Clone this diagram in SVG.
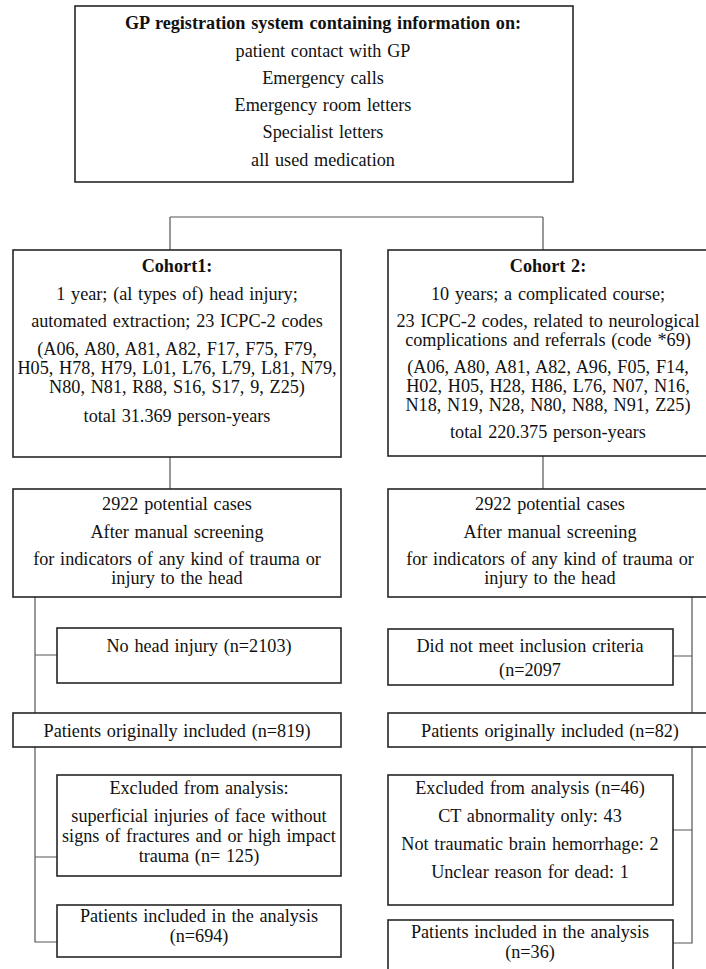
<svg xmlns="http://www.w3.org/2000/svg" width="706" height="969" viewBox="0 0 706 969">
<style>
  .box { fill: #ffffff; stroke: #262626; stroke-width: 1.6; }
  .conn { fill: none; stroke: #555555; stroke-width: 1.2; }
  text { font-size: 18.2px; word-spacing: 1.2px; fill: #111111; text-anchor: middle; }
  .b { font-weight: bold; }
</style>
<rect width="706" height="969" fill="#ffffff"/>

<g id="connectors">
  <path class="conn" d="M170,217 H543 M170,217 V250 M543,217 V250"/>
  <path class="conn" d="M170,457 V489 M543,456 V489"/>
  <path class="conn" d="M35,597 V713 M35,655 H57"/>
  <path class="conn" d="M35,747 V942 H57 M35,857 H57"/>
  <path class="conn" d="M692,597 V713 M692,656 H673"/>
  <path class="conn" d="M692,747 V943 H673 M692,830 H673"/>
</g>

<g font-family="Liberation Serif, Tinos, DejaVu Serif, serif">
<g id="source">
  <rect class="box" x="75" y="6" width="498" height="176"/>
  <text x="323" y="29" class="b">GP registration system containing information on:</text>
  <text x="323" y="57">patient contact with GP</text>
  <text x="323" y="84">Emergency calls</text>
  <text x="323" y="111">Emergency room letters</text>
  <text x="323" y="138">Specialist letters</text>
  <text x="323" y="166">all used medication</text>
</g>

<g id="cohort1">
  <rect class="box" x="13" y="250" width="328" height="207"/>
  <text x="177" y="272" class="b">Cohort1:</text>
  <text x="177" y="300">1 year; (al types of) head injury;</text>
  <text x="177" y="327">automated extraction; 23 ICPC-2 codes</text>
  <text x="177" y="355">(A06, A80, A81, A82, F17, F75, F79,</text>
  <text x="177" y="374">H05, H78, H79, L01, L76, L79, L81, N79,</text>
  <text x="177" y="393">N80, N81, R88, S16, S17, 9, Z25)</text>
  <text x="177" y="422">total 31.369 person-years</text>
</g>

<g id="cohort2">
  <rect class="box" x="388" y="250" width="322" height="206"/>
  <text x="548" y="272" class="b">Cohort 2:</text>
  <text x="548" y="300">10 years; a complicated course;</text>
  <text x="548" y="327">23 ICPC-2 codes, related to neurological</text>
  <text x="548" y="346">complications and referrals (code *69)</text>
  <text x="548" y="373">(A06, A80, A81, A82, A96, F05, F14,</text>
  <text x="548" y="392">H02, H05, H28, H86, L76, N07, N16,</text>
  <text x="548" y="411">N18, N19, N28, N80, N88, N91, Z25)</text>
  <text x="548" y="438">total 220.375 person-years</text>
</g>

<g id="screen1">
  <rect class="box" x="13" y="489" width="328" height="108"/>
  <text x="177" y="510">2922 potential cases</text>
  <text x="177" y="538">After manual screening</text>
  <text x="177" y="565">for indicators of any kind of trauma or</text>
  <text x="177" y="584">injury to the head</text>
</g>

<g id="screen2">
  <rect class="box" x="388" y="489" width="322" height="108"/>
  <text x="550" y="510">2922 potential cases</text>
  <text x="550" y="538">After manual screening</text>
  <text x="550" y="565">for indicators of any kind of trauma or</text>
  <text x="550" y="584">injury to the head</text>
</g>

<g id="nohead">
  <rect class="box" x="57" y="628" width="284" height="55"/>
  <text x="199" y="652">No head injury (n=2103)</text>
</g>

<g id="notmeet">
  <rect class="box" x="388" y="629" width="285" height="56"/>
  <text x="530" y="652">Did not meet inclusion criteria</text>
  <text x="530" y="676">(n=2097</text>
</g>

<g id="orig1">
  <rect class="box" x="13" y="713" width="328" height="34"/>
  <text x="177" y="737">Patients originally included (n=819)</text>
</g>

<g id="orig2">
  <rect class="box" x="388" y="713" width="322" height="34"/>
  <text x="550" y="737">Patients originally included (n=82)</text>
</g>

<g id="excl1">
  <rect class="box" x="57" y="775" width="284" height="101"/>
  <text x="199" y="794">Excluded from analysis:</text>
  <text x="199" y="822">superficial injuries of face without</text>
  <text x="199" y="842">signs of fractures and or high impact</text>
  <text x="199" y="862">trauma (n= 125)</text>
</g>

<g id="excl2">
  <rect class="box" x="388" y="775" width="285" height="130"/>
  <text x="530" y="794">Excluded from analysis (n=46)</text>
  <text x="530" y="822">CT abnormality only: 43</text>
  <text x="530" y="850">Not traumatic brain hemorrhage: 2</text>
  <text x="530" y="878">Unclear reason for dead: 1</text>
</g>

<g id="incl1">
  <rect class="box" x="57" y="905" width="284" height="52"/>
  <text x="199" y="922">Patients included in the analysis</text>
  <text x="199" y="942">(n=694)</text>
</g>

<g id="incl2">
  <rect class="box" x="388" y="920" width="285" height="60"/>
  <text x="530" y="938">Patients included in the analysis</text>
  <text x="530" y="958">(n=36)</text>
</g>
</g>
</svg>
